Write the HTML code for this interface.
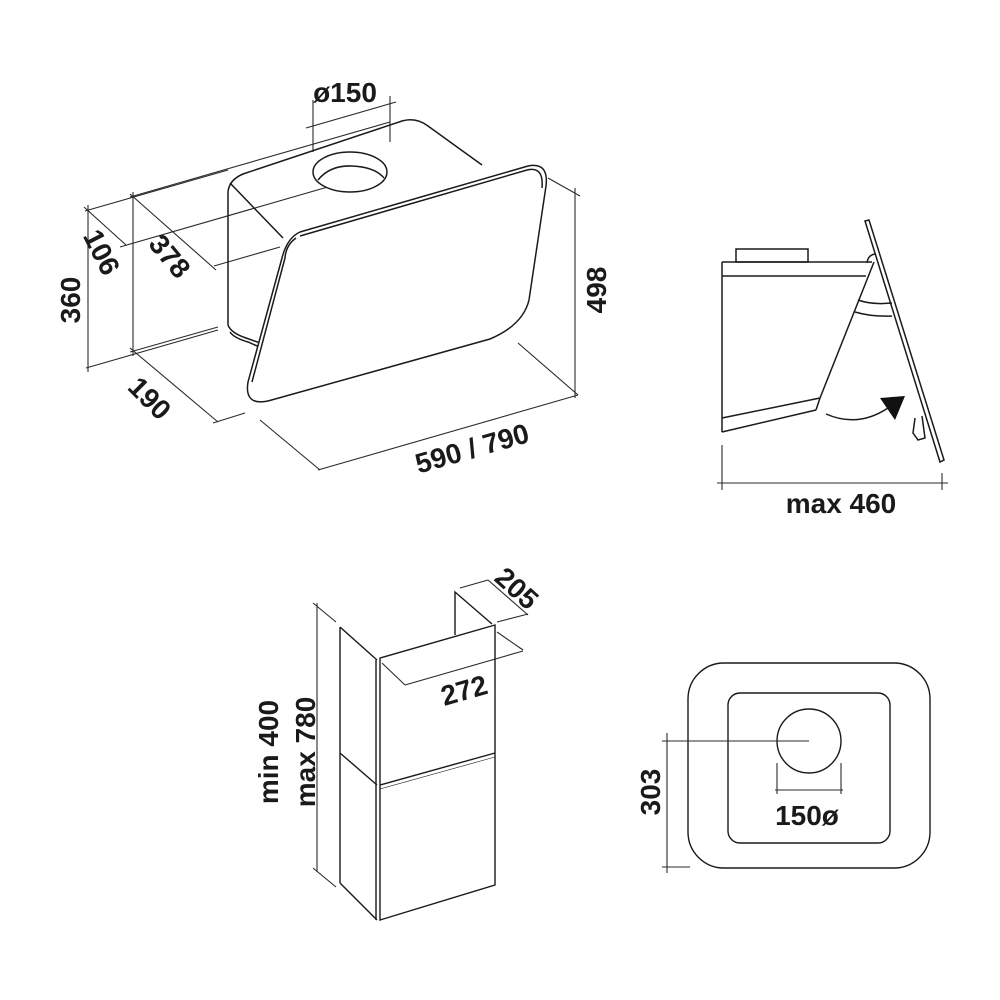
<!DOCTYPE html>
<html><head><style>
html,body{margin:0;padding:0;background:#fff;}
svg{display:block;}
text{font-family:"Liberation Sans",sans-serif;fill:#1a1a1a;font-size:28px;font-weight:bold;}
</style></head><body>
<svg width="1000" height="1000" viewBox="0 0 1000 1000" xmlns="http://www.w3.org/2000/svg">
<g fill="none" stroke="#2a2a2a" stroke-width="1.1">
<line x1="313" y1="100" x2="313" y2="152"/>
<line x1="390" y1="96" x2="390" y2="142"/>
<line x1="306" y1="128" x2="396" y2="102"/>
<line x1="85" y1="211" x2="228" y2="170"/>
<line x1="130" y1="197" x2="390" y2="122"/>
<line x1="120" y1="247" x2="345" y2="182"/>
<line x1="214" y1="266" x2="280" y2="247"/>
<line x1="86" y1="368" x2="218" y2="330"/>
<line x1="130" y1="352" x2="218" y2="327"/>
<line x1="88" y1="205" x2="88" y2="372"/>
<line x1="133" y1="192" x2="133" y2="356"/>
<line x1="84" y1="207" x2="126" y2="245"/>
<line x1="130" y1="194" x2="216" y2="270"/>
<line x1="130" y1="348" x2="218" y2="422"/>
<line x1="213" y1="423" x2="245" y2="413"/>
<line x1="260" y1="420" x2="320" y2="470"/>
<line x1="318" y1="470" x2="578" y2="395"/>
<line x1="518" y1="343" x2="578" y2="395"/>
<line x1="575" y1="188" x2="575" y2="398"/>
<line x1="548" y1="178" x2="580" y2="196"/>
</g>
<g fill="none" stroke="#1a1a1a" stroke-width="1.5">
<path d="M228,325 L228,192 Q229,180 243,174 L402,121 Q416,117 428,126 L482,165"/>
<path d="M228,325 Q231,333 246,338 L266,345"/>
<path d="M230,332 Q234,338 248,342 L264,349"/>
<line x1="230" y1="183" x2="283" y2="238"/>
<ellipse cx="350" cy="172" rx="37" ry="20" fill="#fff"/>
<path d="M318,180 Q330,165 352,166 Q375,167 384,178"/>
<path d="M300,232 L528,166 Q549,162 546,186 L529,300 Q523,325 490,339 L268,401 Q244,406 248,382 L282,258 Q287,238 300,232 Z" fill="#fff"/>
<path d="M300,236 L527,170 Q544,166 542,188" />
<path d="M296,238 Q286,245 285,258 L252,382"/>
<rect x="736" y="249" width="72" height="13"/>
<line x1="722" y1="262" x2="872" y2="262"/>
<line x1="722" y1="276" x2="866" y2="276"/>
<line x1="722" y1="262" x2="722" y2="432"/>
<line x1="722" y1="418" x2="820" y2="398"/>
<line x1="722" y1="432" x2="816" y2="410"/>
<line x1="816" y1="410" x2="820" y2="398"/>
<line x1="820" y1="398" x2="874" y2="262"/>
<path d="M858,300 Q872,305 892,303"/>
<path d="M855,312 Q872,317 892,316"/>
<path d="M867,263 Q868,255 875,254"/>
<polygon points="865,221 869,220 944,460 940,462"/>
<path d="M915,418 L913,433 L918,440 L925,438 L922,416"/>
<path d="M826,414 Q858,428 888,408"/>
</g>
<polygon points="880,398 905,396 895,420" fill="#111"/>
<g fill="none" stroke="#2a2a2a" stroke-width="1.1">
<line x1="722" y1="445" x2="722" y2="490"/>
<line x1="942" y1="473" x2="942" y2="490"/>
<line x1="717" y1="483" x2="948" y2="483"/>
<line x1="317" y1="603" x2="317" y2="872"/>
<line x1="313" y1="603" x2="336" y2="622"/>
<line x1="313" y1="868" x2="336" y2="887"/>
<line x1="460" y1="588" x2="488" y2="580"/>
<line x1="488" y1="580" x2="528" y2="615"/>
<line x1="497" y1="622" x2="528" y2="614"/>
<line x1="382" y1="663" x2="405" y2="685"/>
<line x1="405" y1="685" x2="523" y2="651"/>
<line x1="497" y1="632" x2="523" y2="650"/>
</g>
<g fill="none" stroke="#1a1a1a" stroke-width="1.4">
<polyline points="455,635 455,592 492,624"/>
<line x1="340" y1="627" x2="340" y2="883"/>
<line x1="340" y1="627" x2="377" y2="660"/>
<line x1="340" y1="753" x2="377" y2="785"/>
<line x1="340" y1="883" x2="377" y2="920"/>
<polygon points="380,658 495,625 495,885 380,920"/>
<line x1="376" y1="660" x2="376" y2="920"/>
<line x1="380" y1="785" x2="495" y2="753"/>
<line x1="380" y1="789" x2="495" y2="757" stroke-width="0.6"/>
<rect x="688" y="663" width="242" height="205" rx="36"/>
<rect x="728" y="693" width="162" height="150" rx="12"/>
<circle cx="809" cy="741" r="32"/>
</g>
<g fill="none" stroke="#2a2a2a" stroke-width="1.1">
<line x1="662" y1="741" x2="809" y2="741"/>
<line x1="667" y1="733" x2="667" y2="873"/>
<line x1="662" y1="867" x2="690" y2="867"/>
<line x1="777" y1="763" x2="777" y2="794"/>
<line x1="841" y1="763" x2="841" y2="794"/>
<line x1="775" y1="790" x2="843" y2="790"/>
</g>
<text x="345" y="102" text-anchor="middle">ø150</text>
<text transform="translate(102,252) rotate(63)" text-anchor="middle" dy="10">106</text>
<text transform="translate(170,256) rotate(50)" text-anchor="middle" dy="10">378</text>
<text transform="translate(70,300) rotate(-90)" text-anchor="middle" dy="10">360</text>
<text transform="translate(150,398) rotate(45)" text-anchor="middle" dy="10">190</text>
<text transform="translate(472,448) rotate(-16)" text-anchor="middle" dy="10">590 / 790</text>
<text transform="translate(596,290) rotate(-90)" text-anchor="middle" dy="10">498</text>
<text x="841" y="513" text-anchor="middle" font-size="25">max 460</text>
<text transform="translate(517,588) rotate(42)" text-anchor="middle" dy="10">205</text>
<text transform="translate(464,690) rotate(-16)" text-anchor="middle" dy="10">272</text>
<text transform="translate(268,752) rotate(-90)" text-anchor="middle" dy="10">min 400</text>
<text transform="translate(305,752) rotate(-90)" text-anchor="middle" dy="10">max 780</text>
<text x="807" y="825" text-anchor="middle">150ø</text>
<text transform="translate(650,792) rotate(-90)" text-anchor="middle" dy="10">303</text>
</svg>
</body></html>
